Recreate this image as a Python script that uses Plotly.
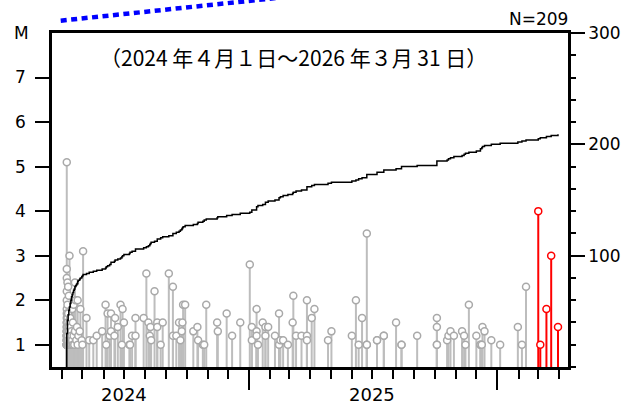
import pandas as pd
import plotly.graph_objects as go

# ---------------- data ----------------
PERIOD_START = "2024-04-01"          # day 0 of EVENT_DAY
HIGHLIGHT_FROM = "2026-03-01"        # events from here on are drawn in red
X_RANGE = ["2024-03-17 07:00", "2026-04-14 17:00"]
M_RANGE = [0.5, 8]
COUNT_RANGE = [0, 300]
M_TICKS = [1, 2, 3, 4, 5, 6, 7]
COUNT_TICKS = [100, 200, 300]
YEAR_LABEL_POS = ["2024-07-01", "2025-07-01"]
YEAR_LABELS = ["2024", "2025"]
TITLE = "（2024 年４月１日～2026 年３月 31 日）"
N_LABEL = "N=209"

# days since PERIOD_START of each event
EVENT_DAY = [
    # early swarm
    7, 7, 7, 7, 7, 7, 7, 7, 7, 7, 7, 7, 7, 7, 7, 7, 7, 7, 7, 7, 7, 7, 7, 7, 7, 7, 7, 7, 7, 7,
    8, 8, 8, 8, 8, 8, 8, 8, 8, 8, 8, 8,
    9, 9, 9, 9, 9,
    10, 10, 10, 10,
    11, 11, 11,
    12, 12, 12,
    13, 13, 13,
    14, 14, 14,
    15, 15, 16, 16, 17, 17, 18, 19, 19, 20, 21, 22, 23, 23, 24, 26, 27, 29, 30, 31, 36, 40, 46, 51,
    # summer 2024
    59, 64, 65, 67, 70, 72, 72, 77, 78, 82, 86, 88, 89, 91, 99, 100, 103, 108, 108, 120,
    124, 127, 129, 130, 131, 136, 140, 140, 145, 148, 157, 163, 163, 168, 172, 174, 176, 177, 178, 181,
    193, 199, 200, 207, 209, 212, 228, 229, 242, 250, 262, 276,
    # early-mid 2025
    279, 279, 286, 286, 286, 288, 295, 299, 299, 303, 313, 319, 319, 321, 325, 332, 339, 340, 344, 352,
    360, 360, 360, 367, 371, 391, 396, 426, 432, 436, 441, 448, 448, 448,
    463, 463, 473, 473, 491, 499, 499, 522, 551, 551, 551, 551, 566, 568, 571, 576, 588, 591, 593, 598,
    609, 615, 615, 617, 618, 621, 631, 644, 670, 676, 682,
    # March 2026
    700, 703, 712, 719, 729,
]

EVENT_MAG = [
    5.1, 2.7, 2.5, 2.2, 2.0, 1.8, 1.6, 1.5, 1.4, 1.3, 1.2, 1.2, 1.1, 1.1, 1.0, 1.0, 1.0, 1.3, 1.5, 1.7, 1.2, 1.0, 1.1, 1.4, 1.0, 1.2, 1.0, 1.1, 1.3, 1.0,
    2.4, 1.9, 1.6, 1.3, 1.1, 1.0, 1.2, 1.5, 1.0, 1.4, 1.1, 1.0,
    2.3, 1.7, 1.2, 1.0, 1.1,
    2.1, 1.4, 1.0, 1.3,
    3.0, 1.5, 1.1,
    1.2, 1.6, 1.0,
    1.4, 1.1, 1.0,
    1.3, 1.0, 1.2,
    1.8, 1.1, 1.0, 1.5, 1.9, 1.2, 1.0, 2.4, 1.3, 2.0, 1.1, 1.4, 2.0, 1.0, 1.2, 1.3, 1.8, 1.1, 1.0, 3.1, 1.6, 1.1, 1.1, 1.2,
    1.3, 1.9, 1.0, 1.7, 1.2, 1.7, 1.3, 1.2, 1.6, 1.4, 1.9, 1.0, 1.8, 1.5, 1.0, 1.0, 1.2, 1.6, 1.2, 1.6,
    2.6, 1.5, 1.2, 1.4, 1.1, 2.2, 1.5, 1.4, 1.0, 1.5, 2.6, 2.3, 1.2, 1.2, 1.5, 1.1, 1.3, 1.5, 1.9, 1.9,
    1.3, 1.4, 1.1, 1.0, 1.0, 1.9, 1.5, 1.3, 1.7, 1.2, 1.5, 2.8,
    1.4, 1.1, 1.8, 1.3, 1.2, 1.0, 1.5, 1.4, 1.2, 1.4, 1.2, 1.7, 1.0, 1.1, 1.1, 1.0, 1.5, 2.1, 1.2, 1.2,
    2.0, 1.2, 1.1, 1.6, 1.8, 1.1, 1.3, 1.2, 2.0, 1.0, 1.6, 3.5, 1.0, 1.0,
    1.1, 1.1, 1.2, 1.2, 1.5, 1.0, 1.0, 1.2, 1.6, 1.4, 1.0, 1.0, 1.1, 1.2, 1.3, 1.2, 1.3, 1.2, 1.0, 1.9,
    1.2, 1.0, 1.0, 1.0, 1.4, 1.3, 1.1, 1.0, 1.4, 1.0, 2.3,
    4.0, 1.0, 1.8, 3.0, 1.4,
]

# ---------------- build ----------------
start = pd.Timestamp(PERIOD_START)
df = pd.DataFrame({
    "date": [start + pd.Timedelta(days=d) for d in EVENT_DAY],
    "mag": EVENT_MAG,
}).sort_values("date", kind="stable").reset_index(drop=True)
df["recent"] = df["date"] >= pd.Timestamp(HIGHLIGHT_FROM)


def stem_xy(sub):
    xs, ys = [], []
    for d, m in zip(sub["date"], sub["mag"]):
        xs += [d, d, None]
        ys += [M_RANGE[0], m, None]
    return xs, ys


fig = go.Figure()

STYLES = [
    (False, "#bdbdbd", "#a9a9a9"),
    (True, "#ff0000", "#ff0000"),
]
for flag, stem_col, mark_col in STYLES:
    sub = df[df["recent"] == flag]
    sx, sy = stem_xy(sub)
    fig.add_trace(go.Scatter(x=sx, y=sy, mode="lines",
                             line=dict(color=stem_col, width=2),
                             hoverinfo="skip", showlegend=False))
for flag, stem_col, mark_col in STYLES:
    sub = df[df["recent"] == flag]
    fig.add_trace(go.Scatter(x=sub["date"], y=sub["mag"], mode="markers",
                             marker=dict(symbol="circle", size=7, color="white",
                                         line=dict(color=mark_col, width=1.5)),
                             showlegend=False))

cum_x = [df["date"].iloc[0]] + list(df["date"])
cum_y = [0] + list(range(1, len(df) + 1))
fig.add_trace(go.Scatter(x=cum_x, y=cum_y, mode="lines", yaxis="y2",
                         line=dict(color="black", width=1.5, shape="hv"),
                         showlegend=False))

TICKFONT = dict(family="DejaVu Sans", size=17, color="black")

fig.update_layout(
    width=643, height=406,
    margin=dict(l=52, r=75, t=33, b=39, pad=0),
    paper_bgcolor="white", plot_bgcolor="white",
    xaxis=dict(
        type="date", range=X_RANGE, showgrid=False, zeroline=False,
        showline=True, linecolor="black", linewidth=2.5, mirror=True,
        ticks="outside", tickmode="linear", tick0="2024-01-01", dtick="M12",
        ticklen=20, tickwidth=2, tickcolor="black", showticklabels=False,
        minor=dict(ticks="outside", tickmode="linear", tick0="2024-01-01",
                   dtick="M1", ticklen=9, tickwidth=2, tickcolor="black",
                   showgrid=False),
    ),
    yaxis=dict(
        range=M_RANGE, tickmode="array", tickvals=M_TICKS,
        ticks="outside", ticklen=14, tickwidth=1.5, tickcolor="black",
        showline=True, linecolor="black", linewidth=2.5,
        showgrid=False, zeroline=False, tickfont=TICKFONT,
        ticklabelstandoff=6,
    ),
    yaxis2=dict(
        overlaying="y", side="right", range=COUNT_RANGE,
        tickmode="array", tickvals=COUNT_TICKS,
        ticks="outside", ticklen=14, tickwidth=1.5, tickcolor="black",
        showline=True, linecolor="black", linewidth=2.5,
        showgrid=False, zeroline=False, tickfont=TICKFONT,
        ticklabelstandoff=0,
        minor=dict(ticks="outside", tickmode="linear", tick0=0, dtick=20,
                   ticklen=5, tickwidth=1.5, tickcolor="black", showgrid=False),
    ),
)

annotations = []
for pos, lab in zip(YEAR_LABEL_POS, YEAR_LABELS):
    annotations.append(dict(x=pos, xref="x", y=0, yref="paper", text=lab,
                            showarrow=False, xanchor="center", yanchor="top",
                            yshift=-15, font=dict(family="DejaVu Sans", size=18, color="black")))
annotations.append(dict(x=0, xref="paper", y=1, yref="paper", text="M",
                        showarrow=False, xanchor="center", yanchor="middle",
                        xshift=-31, yshift=0, font=TICKFONT))
annotations.append(dict(x=1, xref="paper", y=1, yref="paper", text=N_LABEL,
                        showarrow=False, xanchor="right", yanchor="middle",
                        yshift=14, xshift=2, font=TICKFONT))
annotations.append(dict(x=0.468, xref="paper", y=0.929, yref="paper", text=TITLE,
                        showarrow=False, xanchor="center", yanchor="middle",
                        font=dict(family="Noto Sans CJK JP", size=21, color="black")))
fig.update_layout(annotations=annotations)

# blue dotted boundary line running off the top of the figure
fig.add_shape(type="line", xref="paper", yref="paper",
              x0=0.0169, y0=1.0369, x1=0.538, y1=1.1215,
              line=dict(color="#0000ff", width=4.5, dash="6px,4.5px"))

fig.write_html("out.html")
